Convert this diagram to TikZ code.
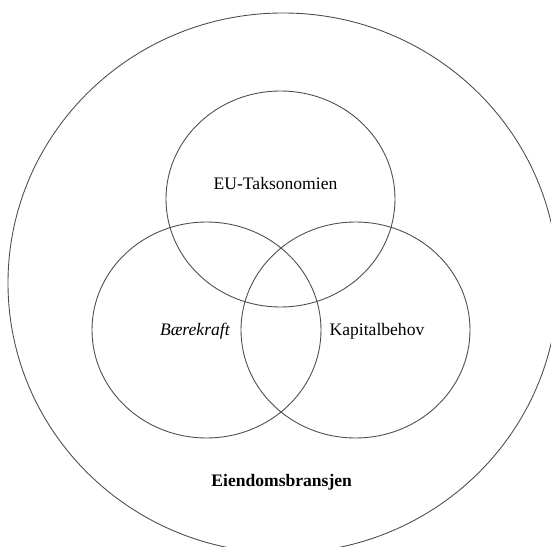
\documentclass[tikz,border=0pt]{standalone}
\usepackage{fontspec}
\setmainfont{Liberation Serif}
\usetikzlibrary{positioning}
\tikzset{
  venn line/.style={line width=.5pt,draw=black!70},
  venn label/.style={font=\fontsize{10}{12}\selectfont,inner sep=0pt,anchor=base}
}

\begin{document}
\begin{tikzpicture}[x=0.02cm,y=-0.02cm]
  \useasboundingbox (0,0) rectangle (551,547);
  \clip (0,0) rectangle (551,547);
  \coordinate (bransje) at (283,283);
  \coordinate (takso)   at (280.5,199);
  \coordinate (baere)   at (206.5,330);
  \coordinate (kapital) at (355.5,330);

  \draw[venn line] (bransje) ellipse (275 and 270);
  \foreach \p in {takso,baere,kapital} {\draw[venn line] (\p) ellipse (114.5 and 108);}

  \node[venn label] (taksolbl)   at (275.5,190) {EU-Taksonomien};
  \node[venn label] (baerelbl)   at (195,335)   {\textit{Bærekraft}};
  \node[venn label] (kapitallbl) at (377,335)   {Kapitalbehov};
  \node[venn label] (bransjelbl) at (281.7,486.7) {\textbf{Eiendomsbransjen}};
\end{tikzpicture}
\end{document}
